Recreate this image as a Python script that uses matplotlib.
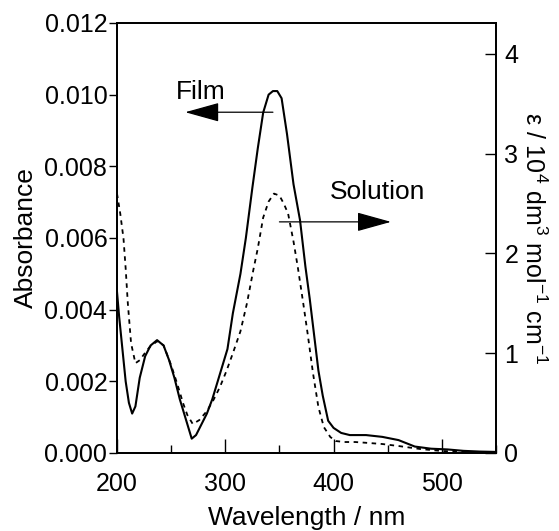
import matplotlib
matplotlib.use("Agg")
import matplotlib.pyplot as plt
from matplotlib.ticker import MultipleLocator, FixedLocator

plt.rcParams['font.family'] = ['Liberation Sans', 'DejaVu Sans']
plt.rcParams['mathtext.fontset'] = 'custom'
plt.rcParams['mathtext.rm'] = 'Liberation Sans'
plt.rcParams['mathtext.it'] = 'Liberation Sans'

# Film absorbance (left axis)
film_wl = [200, 202, 205, 208, 211, 214, 217, 221, 226, 231, 237, 243, 248, 253,
           258, 263, 266, 269, 273, 278, 283, 288, 293, 298, 302, 307, 314, 319,
           325, 330, 335, 340, 344, 348, 352, 357, 363, 369, 374, 378, 382, 386,
           390, 395, 400, 407, 415, 430, 445, 460, 475, 490, 505, 520, 535, 550]
film_abs = [0.0045, 0.0038, 0.0029, 0.0020, 0.0014, 0.0011, 0.0013, 0.0021, 0.0027,
            0.0030, 0.00315, 0.0030, 0.0026, 0.0021, 0.0015, 0.0010, 0.0007, 0.0004,
            0.0005, 0.0008, 0.0011, 0.0015, 0.0020, 0.0025, 0.0029, 0.0039, 0.0050,
            0.0060, 0.0074, 0.0085, 0.0095, 0.0100, 0.0101, 0.0101, 0.0099, 0.0089,
            0.0075, 0.0065, 0.0052, 0.0043, 0.0033, 0.0023, 0.0016, 0.0009, 0.0007,
            0.00056, 0.0005, 0.0005, 0.00045, 0.00036, 0.00018, 0.00012, 0.0001,
            0.00006, 0.00004, 0.00003]

# Solution molar absorptivity (right axis, 10^4 dm3 mol-1 cm-1)
sol_wl = [200, 203, 206, 208, 210, 213, 217, 221, 225, 230, 237, 243, 250, 256,
          261, 265, 270, 276, 283, 289, 295, 301, 307, 314, 320, 326, 330, 335,
          340, 345, 350, 354, 358, 363, 367, 372, 376, 381, 386, 391, 397, 402,
          410, 420, 433, 445, 460, 480, 500, 525, 550]
sol_eps = [2.6, 2.4, 2.15, 1.85, 1.5, 1.1, 0.9, 0.93, 0.99, 1.06, 1.12, 1.08,
           0.88, 0.68, 0.50, 0.38, 0.29, 0.33, 0.42, 0.53, 0.66, 0.82, 1.0, 1.22,
           1.5, 1.84, 2.05, 2.36, 2.52, 2.6, 2.58, 2.5, 2.4, 2.12, 1.86, 1.5, 1.2,
           0.8, 0.46, 0.26, 0.16, 0.12, 0.11, 0.11, 0.1, 0.09, 0.07, 0.04, 0.02,
           0.01, 0.0]

x_ticks = [200, 300, 400, 500]
left_ticks = [0.000, 0.002, 0.004, 0.006, 0.008, 0.010, 0.012]
right_ticks = [0, 1, 2, 3, 4]

fig = plt.figure(figsize=(5.59, 5.31), dpi=100)
ax = fig.add_axes([0.2093, 0.1469, 0.8873 - 0.2093, 0.9567 - 0.1469])
ax2 = ax.twinx()

ax.plot(film_wl, film_abs, color='black', lw=1.5, solid_joinstyle='round')
ax2.plot(sol_wl, sol_eps, color='black', lw=1.3, linestyle=(0, (2.5, 2.5)))

ax.set_xlim(200, 550)
ax.set_ylim(0, 0.012)
ax2.set_ylim(0, 4.31)

ax.xaxis.set_major_locator(FixedLocator(x_ticks))
ax.xaxis.set_minor_locator(MultipleLocator(50))
ax.yaxis.set_major_locator(FixedLocator(left_ticks))
ax.set_yticklabels([f"{v:.3f}" for v in left_ticks])
ax2.yaxis.set_major_locator(FixedLocator(right_ticks))
ax2.set_yticklabels([str(v) for v in right_ticks])

fs = 18
ax.tick_params(axis='x', which='major', direction='in', length=10, width=1.0,
               labelsize=fs, pad=14, top=False)
ax.tick_params(axis='x', which='minor', direction='in', length=6, width=1.0, top=False)
ax.tick_params(axis='y', which='major', direction='out', length=6, width=1.0,
               labelsize=fs, pad=1)
ax2.tick_params(axis='y', which='major', direction='in', length=8, width=1.0,
                labelsize=fs, pad=6)

for a in (ax, ax2):
    for s in a.spines.values():
        s.set_linewidth(1.3)

ax.set_xlabel('Wavelength / nm', fontsize=19, labelpad=7)
ax.set_ylabel('Absorbance', fontsize=19, labelpad=5)
ax2.set_ylabel(r'ε / 10$^4$ dm$^3$ mol$^{-1}$ cm$^{-1}$', fontsize=18,
               rotation=270, labelpad=20)

ax.text(277, 0.01007, 'Film', fontsize=19, ha='center', va='center')
ax.annotate('', xy=(263, 0.00951), xytext=(344, 0.00951),
            arrowprops=dict(arrowstyle='-|>,head_length=1.8,head_width=0.5',
                            mutation_scale=12, color='black', lw=0.9,
                            shrinkA=0, shrinkB=0))
ax.text(441, 0.00728, 'Solution', fontsize=19, ha='center', va='center')
ax.annotate('', xy=(453, 0.00645), xytext=(350, 0.00645),
            arrowprops=dict(arrowstyle='-|>,head_length=1.8,head_width=0.5',
                            mutation_scale=12, color='black', lw=0.9,
                            shrinkA=0, shrinkB=0))

fig.savefig('out.png', dpi=100)
